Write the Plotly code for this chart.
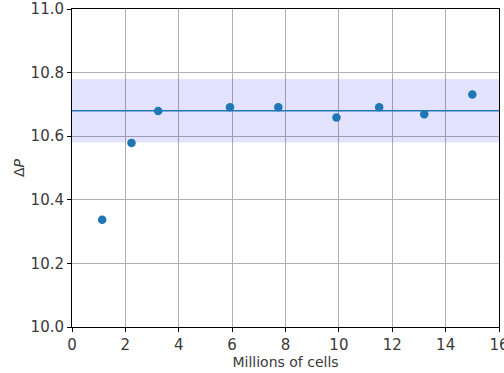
import plotly.graph_objects as go

cells = [1.13, 2.23, 3.23, 5.92, 7.73, 9.91, 11.51, 13.2, 15.0]
dp = [10.337, 10.579, 10.679, 10.691, 10.691, 10.659, 10.691, 10.669, 10.731]
mean_dp = 10.68
band_half = 0.1
x_range = [0, 16]
y_range = [10.0, 11.0]
x_ticks = [0, 2, 4, 6, 8, 10, 12, 14, 16]
y_ticks = [10.0, 10.2, 10.4, 10.6, 10.8, 11.0]

fig = go.Figure()
fig.add_trace(go.Scatter(
    x=[x_range[0], x_range[1], x_range[1], x_range[0], x_range[0]],
    y=[mean_dp - band_half, mean_dp - band_half, mean_dp + band_half, mean_dp + band_half, mean_dp - band_half],
    fill="toself", fillcolor="rgba(0,0,255,0.11)", line=dict(width=0),
    mode="lines", hoverinfo="skip", showlegend=False))
fig.add_trace(go.Scatter(
    x=x_range, y=[mean_dp, mean_dp], mode="lines",
    line=dict(color="#1f77b4", width=1.5), showlegend=False))
fig.add_trace(go.Scatter(
    x=cells, y=dp, mode="markers",
    marker=dict(color="#1f77b4", size=8.5), showlegend=False))

font = dict(family="DejaVu Sans", size=14, color="#3a3a3a")
fig.update_layout(
    width=504, height=373,
    margin=dict(l=72, r=5, t=9, b=46),
    plot_bgcolor="white", paper_bgcolor="white",
    font=font,
)
fig.update_xaxes(
    range=x_range, tickvals=x_ticks, ticktext=[str(v) for v in x_ticks],
    showgrid=True, gridcolor="#b0b0b0", gridwidth=1,
    showline=True, linecolor="black", linewidth=1, mirror=True,
    ticks="outside", ticklen=4, tickcolor="black",
    zeroline=False, automargin=False, ticklabeloverflow="allow",
    title=dict(text="Millions of cells", standoff=4, font=dict(size=14)),
    tickfont=dict(size=15),
)
fig.update_yaxes(
    range=y_range, tickvals=y_ticks, ticktext=[f"{v:.1f}" for v in y_ticks],
    showgrid=True, gridcolor="#b0b0b0", gridwidth=1,
    showline=True, linecolor="black", linewidth=1, mirror=True,
    ticks="outside", ticklen=4, tickcolor="black",
    zeroline=False, automargin=False, ticklabeloverflow="allow",
    title=dict(text="Δ<i>P</i>", standoff=2, font=dict(size=14)),
    tickfont=dict(size=15),
)
fig.write_html("out.html")
